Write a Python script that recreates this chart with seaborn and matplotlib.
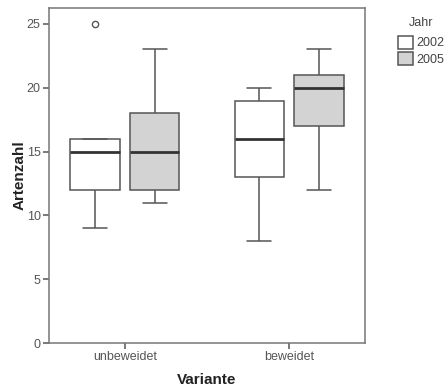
import matplotlib
matplotlib.use("Agg")
import matplotlib.pyplot as plt
import seaborn as sns
import pandas as pd

variants = ["unbeweidet", "beweidet"]
years = ["2002", "2005"]
unbeweidet_2002 = [9, 12, 12, 15, 15, 16, 16, 25]
unbeweidet_2005 = [11, 12, 12, 15, 15, 18, 18, 23]
beweidet_2002 = [8, 13, 13, 16, 16, 19, 19, 20]
beweidet_2005 = [12, 17, 17, 20, 20, 21, 21, 23]
y_ticks = [0, 5, 10, 15, 20, 25]

groups = {
    ("unbeweidet", "2002"): unbeweidet_2002,
    ("unbeweidet", "2005"): unbeweidet_2005,
    ("beweidet", "2002"): beweidet_2002,
    ("beweidet", "2005"): beweidet_2005,
}
rows = []
for (v, y), vals in groups.items():
    for val in vals:
        rows.append({"Variante": v, "Jahr": y, "Artenzahl": val})
df = pd.DataFrame(rows)

sns.set_style("white")
plt.rcParams["font.family"] = ["Liberation Sans", "DejaVu Sans"]

fig = plt.figure(figsize=(4.46, 3.89), dpi=100)
ax = fig.add_axes([49/446, 1 - 343/389, (365-49)/446, (343-8)/389])

line_c = "#555555"
sns.boxplot(data=df, x="Variante", y="Artenzahl", hue="Jahr",
            order=variants, hue_order=years,
            palette={"2002": "white", "2005": "#d3d3d3"},
            width=0.73, gap=0.18, linecolor=line_c, linewidth=1.1,
            medianprops=dict(color="#333333", linewidth=2.0),
            flierprops=dict(marker="o", markerfacecolor="none",
                            markeredgecolor=line_c, markersize=4.5,
                            markeredgewidth=1.0),
            ax=ax)

ax.set_xlim(-0.463, 1.463)
ax.set_ylim(0, 26.25)
ax.set_yticks(y_ticks)
for s in ax.spines.values():
    s.set_color("#777777")
    s.set_linewidth(1.1)
    s.set_visible(True)
ax.tick_params(axis="both", direction="out", length=4, width=1.1,
               color="#555555", labelcolor="#555555", labelsize=9, pad=2,
               bottom=True, left=True)
ax.set_xlabel("Variante", fontsize=11, fontweight="bold", color="#222222", labelpad=7)
ax.set_ylabel("Artenzahl", fontsize=11, fontweight="bold", color="#222222", labelpad=0)

sns.move_legend(ax, "upper left", bbox_to_anchor=(1.078, 1.0), frameon=False,
                title="Jahr", fontsize=9, title_fontsize=9,
                handlelength=1.2, handleheight=1.2, handletextpad=0.2,
                borderpad=0.2, labelspacing=0.25)
leg = ax.get_legend()
leg._legend_box.sep = 5.0
for t in leg.get_texts():
    t.set_color("#444444")
leg.get_title().set_color("#444444")

fig.savefig("out.png", dpi=100)
